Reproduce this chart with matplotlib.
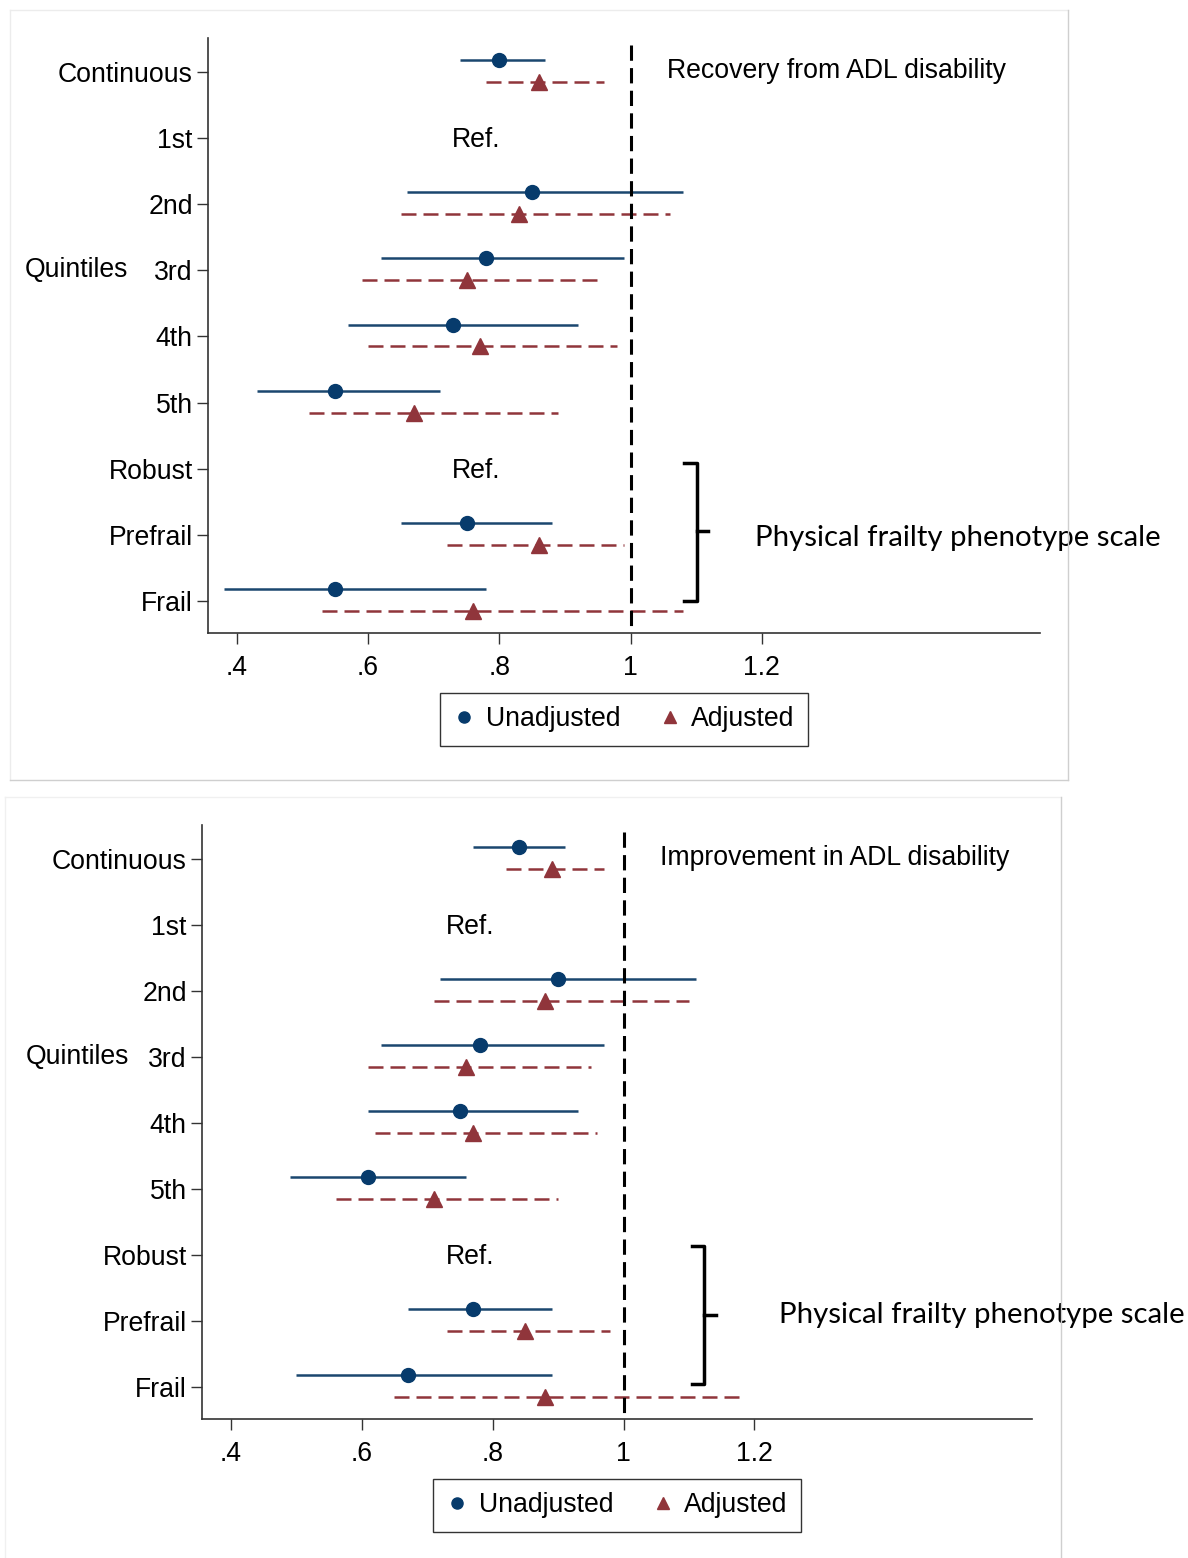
import numpy as np
import matplotlib.pyplot as plt
from matplotlib.lines import Line2D

# ------------------------------------------------------------
# data
# ------------------------------------------------------------
nan = np.nan
row_labels = ["Continuous", "1st", "2nd", "3rd", "4th", "5th",
              "Robust", "Prefrail", "Frail"]
xtick_vals = [0.4, 0.6, 0.8, 1.0, 1.2]
xtick_labels = [".4", ".6", ".8", "1", "1.2"]
ref_rows = [1, 6]

# recovery from ADL disability
rec_unadj = [0.80, nan, 0.85, 0.78, 0.73, 0.55, nan, 0.75, 0.55]
rec_unadj_lo = [0.74, nan, 0.66, 0.62, 0.57, 0.43, nan, 0.65, 0.38]
rec_unadj_hi = [0.87, nan, 1.08, 0.99, 0.92, 0.71, nan, 0.88, 0.78]
rec_adj = [0.86, nan, 0.83, 0.75, 0.77, 0.67, nan, 0.86, 0.76]
rec_adj_lo = [0.78, nan, 0.65, 0.59, 0.60, 0.51, nan, 0.72, 0.53]
rec_adj_hi = [0.96, nan, 1.06, 0.96, 0.98, 0.89, nan, 0.99, 1.08]

# improvement in ADL disability
imp_unadj = [0.84, nan, 0.90, 0.78, 0.75, 0.61, nan, 0.77, 0.67]
imp_unadj_lo = [0.77, nan, 0.72, 0.63, 0.61, 0.49, nan, 0.67, 0.50]
imp_unadj_hi = [0.91, nan, 1.11, 0.97, 0.93, 0.76, nan, 0.89, 0.89]
imp_adj = [0.89, nan, 0.88, 0.76, 0.77, 0.71, nan, 0.85, 0.88]
imp_adj_lo = [0.82, nan, 0.71, 0.61, 0.62, 0.56, nan, 0.73, 0.65]
imp_adj_hi = [0.97, nan, 1.10, 0.95, 0.96, 0.90, nan, 0.98, 1.18]

NAVY = "#1a476f"
NAVY_DOT = "#073b6c"
MAROON = "#90353b"
FS = 19.2

plt.rcParams["font.family"] = ["Liberation Sans", "DejaVu Sans"]


def draw_panel(ax, est_u, lo_u, hi_u, est_a, lo_a, hi_a,
               title, quint_x, brace_x, scale_xy):
    y = np.arange(len(row_labels))
    yu = y - 0.18
    ya = y + 0.15

    ax.hlines(yu, lo_u, hi_u, color=NAVY, lw=1.8, zorder=3)
    ax.hlines(ya, lo_a, hi_a, color=MAROON, lw=1.8,
              linestyles=[(0, (6, 2.8))], zorder=3)
    ax.plot(est_u, yu, "o", color=NAVY_DOT, ms=10, zorder=4)
    ax.plot(est_a, ya, "^", color=MAROON, ms=11, zorder=4)

    ax.plot([1, 1], [-0.41, 8.6], color="black", lw=2.2,
            dashes=(5, 2.4), zorder=5, clip_on=True)

    for r in ref_rows:
        ax.text(0.765, r + 0.03, "Ref.", ha="center", va="center", fontsize=FS)

    ax.text(1.055, -0.02, title, ha="left", va="center", fontsize=FS)
    ax.text(quint_x, 3, "Quintiles", ha="left", va="center", fontsize=FS,
            transform=ax.get_yaxis_transform())

    # brace for the frailty rows
    bx, hook, tip, y0, y1, ym = brace_x
    ax.plot([hook, bx, bx, hook], [y0, y0, y1, y1], color="black",
            lw=2.5, solid_joinstyle="round", clip_on=False)
    ax.plot([bx, tip], [ym, ym], color="black", lw=2.5, clip_on=False)
    ax.text(scale_xy[0], scale_xy[1], "Physical frailty phenotype scale",
            ha="left", va="center", fontsize=21.2, family=["Lato"],
            bbox=dict(facecolor="white", edgecolor="none", pad=7),
            clip_on=False, zorder=6)

    ax.set_xlim(0.356, 1.624)
    ax.set_ylim(8.484, -0.514)
    ax.set_yticks(y)
    ax.set_yticklabels(row_labels, fontsize=FS)
    ax.set_xticks(xtick_vals)
    ax.set_xticklabels(xtick_labels, fontsize=FS)
    ax.tick_params(axis="both", length=8, width=1.0, color="#333333")
    ax.tick_params(axis="y", pad=3)
    ax.tick_params(axis="x", pad=7.5)
    for s in ["top", "right"]:
        ax.spines[s].set_visible(False)
    for s in ["left", "bottom"]:
        ax.spines[s].set_linewidth(1.2)
        ax.spines[s].set_color("#333333")

    handles = [Line2D([], [], ls="none", marker="o", color=NAVY_DOT, ms=8),
               Line2D([], [], ls="none", marker="^", color=MAROON, ms=9)]
    leg = ax.legend(handles, ["Unadjusted", "Adjusted"], ncol=2,
                    loc="upper center", bbox_to_anchor=(0.5, -0.101),
                    fontsize=FS, frameon=True, fancybox=False,
                    handlelength=0.8, handletextpad=0.4,
                    columnspacing=1.45, borderpad=0.5,
                    borderaxespad=0)
    leg.get_frame().set_edgecolor("black")
    leg.get_frame().set_linewidth(1.0)


fig = plt.figure(figsize=(11.88, 15.58), dpi=100)
W, H = 1188, 1558

# panel frames
def frame(x0, y0, x1, y1, col_lt, col_rb):
    fx = lambda v: v / W
    fy = lambda v: 1 - v / H
    fig.add_artist(Line2D([fx(x0), fx(x1)], [fy(y0), fy(y0)], color=col_lt, lw=1))
    fig.add_artist(Line2D([fx(x0), fx(x0)], [fy(y0), fy(y1)], color=col_lt, lw=1))
    fig.add_artist(Line2D([fx(x1), fx(x1)], [fy(y0), fy(y1)], color=col_rb, lw=1))
    fig.add_artist(Line2D([fx(x0), fx(x1)], [fy(y1), fy(y1)], color=col_rb, lw=1))

frame(10, 10, 1068, 780, "#ececec", "#cfcfcf")
frame(5, 797, 1061, 1570, "#f0f0f0", "#cfcfcf")

ax1 = fig.add_axes([208 / W, 1 - 633 / H, 832 / W, 595 / H])
ax2 = fig.add_axes([202 / W, 1 - 1419 / H, 830 / W, 594 / H])

draw_panel(ax1, rec_unadj, rec_unadj_lo, rec_unadj_hi,
           rec_adj, rec_adj_lo, rec_adj_hi,
           "Recovery from ADL disability", -0.22,
           (1.102, 1.082, 1.118, 5.91, 8.0, 6.94), (1.190, 7.05))
draw_panel(ax2, imp_unadj, imp_unadj_lo, imp_unadj_hi,
           imp_adj, imp_adj_lo, imp_adj_hi,
           "Improvement in ADL disability", -0.212,
           (1.123, 1.105, 1.142, 5.87, 7.95, 6.91), (1.237, 6.91))

fig.savefig("out.png", dpi=100)
